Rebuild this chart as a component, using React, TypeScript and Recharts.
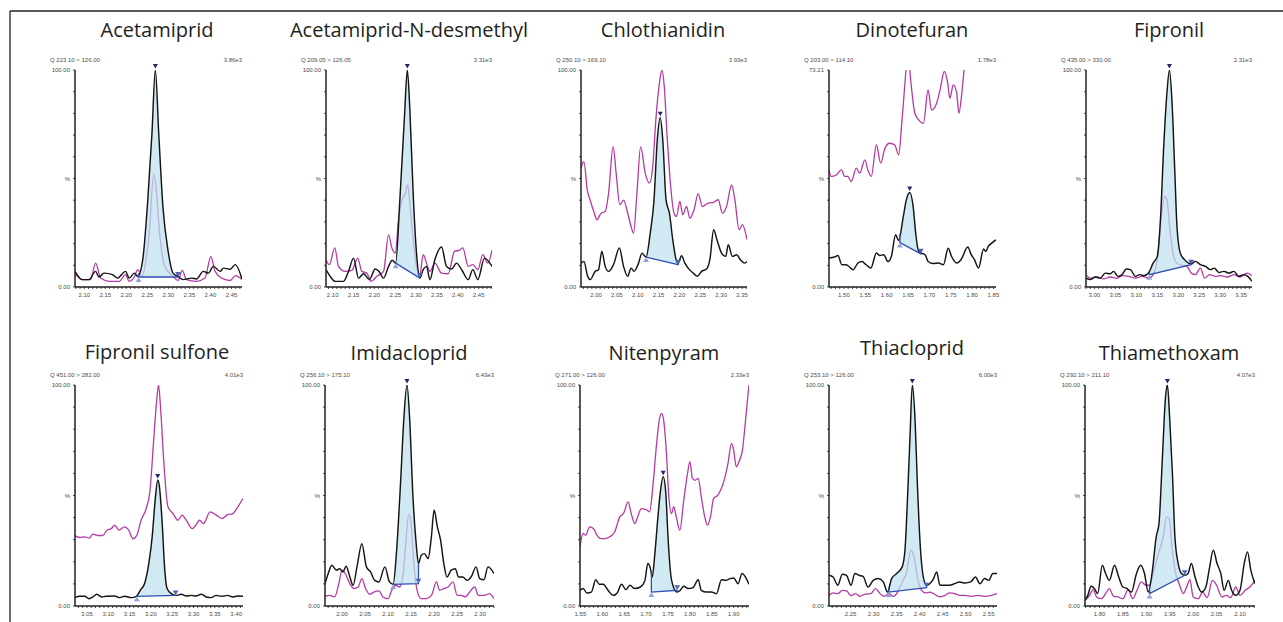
import React from 'react';
import { ComposedChart, Line, Area, XAxis, YAxis, ReferenceDot } from 'recharts';

type Pt = [number, number];

// ---------------- data ----------------
const titles = ['Acetamiprid', 'Acetamiprid-N-desmethyl', 'Chlothianidin', 'Dinotefuran', 'Fipronil', 'Fipronil sulfone', 'Imidacloprid', 'Nitenpyram', 'Thiacloprid', 'Thiamethoxam'];
const transitions = ['Q 223.10 > 126.00', 'Q 209.05 > 126.05', 'Q 250.10 > 169.10', 'Q 203.00 > 114.10', 'Q 435.00 > 330.00', 'Q 451.00 > 282.00', 'Q 256.10 > 175.10', 'Q 271.00 > 126.00', 'Q 253.10 > 126.00', 'Q 292.10 > 211.10'];
const intensities = ['3.86e3', '3.31e3', '3.93e3', '1.78e3', '2.31e3', '4.01e3', '6.43e3', '2.33e3', '6.00e3', '4.07e3'];
const yTops = [100, 100, 100, 73.21, 100, 100, 100, 100, 100, 100];
const timeRanges: Pt[] = [[2.078, 2.475], [2.084, 2.482], [1.964, 2.362], [1.465, 1.856], [2.980, 3.376], [3.022, 3.416], [1.963, 2.330], [1.549, 1.935], [2.203, 2.568], [1.769, 2.132]];
// [time, baseline level]
const peakStarts: Pt[] = [[2.229, 4.6], [2.251, 11], [2.120, 13.8], [1.631, 15.0], [3.131, 5.7], [3.167, 4.4], [2.111, 9.8], [1.712, 6.3], [2.333, 6.3], [1.907, 5.6]];
const peakEnds: Pt[] = [[2.323, 4.6], [2.309, 4.1], [2.197, 10.3], [1.680, 11.2], [3.231, 10.3], [3.258, 4.8], [2.166, 10.1], [1.771, 7.1], [2.415, 8.3], [1.982, 13.9]];

const acetamipridQuant: Pt[] = [[2.078, 7.2], [2.095, 3.4], [2.111, 3.4], [2.127, 7.2], [2.135, 4.6], [2.147, 6.4], [2.167, 5.7], [2.179, 4.1], [2.198, 7.2], [2.207, 4.1], [2.219, 6.4], [2.227, 4.9], [2.239, 12.6], [2.251, 40], [2.261, 71], [2.269, 100], [2.277, 71], [2.287, 37], [2.299, 17], [2.311, 6.4], [2.323, 4.9], [2.335, 3.4], [2.355, 4.1], [2.367, 3.7], [2.383, 7.2], [2.395, 6.4], [2.407, 9.5], [2.423, 7.2], [2.431, 8.7], [2.447, 8.2], [2.459, 10.3], [2.475, 3.7]];
const acetamipridQual: Pt[] = [[2.078, 6.4], [2.095, 3.4], [2.115, 3.4], [2.127, 11], [2.139, 4.1], [2.159, 2.6], [2.183, 2.6], [2.198, 5.7], [2.207, 2.6], [2.219, 4.6], [2.227, 8], [2.237, 4.9], [2.247, 12.6], [2.255, 26], [2.265, 52], [2.271, 45], [2.279, 25], [2.289, 11], [2.299, 7.2], [2.311, 4.9], [2.323, 3], [2.333, 7.7], [2.343, 3.4], [2.367, 2.6], [2.387, 4.1], [2.401, 14], [2.411, 7.2], [2.427, 4.1], [2.447, 3], [2.459, 5.2], [2.475, 3.4]];

const desmethylQuant: Pt[] = [[2.084, 8], [2.094, 4.9], [2.106, 2.6], [2.126, 2.6], [2.138, 7.2], [2.150, 13.3], [2.162, 4.1], [2.174, 6.1], [2.188, 3.4], [2.202, 8.3], [2.211, 7.2], [2.222, 4.1], [2.234, 9.5], [2.243, 12.3], [2.251, 11], [2.261, 40], [2.272, 78], [2.279, 100], [2.285, 82], [2.293, 43], [2.301, 15.6], [2.309, 4.1], [2.317, 8], [2.325, 9.5], [2.333, 3.4], [2.345, 12.6], [2.361, 18.4], [2.373, 9.5], [2.385, 8.3], [2.397, 11], [2.410, 7.7], [2.425, 3.4], [2.436, 8], [2.448, 3.4], [2.464, 13.3], [2.482, 9.5]];
const desmethylQual: Pt[] = [[2.084, 12.6], [2.092, 10.3], [2.105, 18], [2.114, 9.5], [2.130, 7.2], [2.146, 7.7], [2.160, 13.3], [2.170, 7.2], [2.182, 6.4], [2.192, 2.6], [2.206, 4.9], [2.222, 7.2], [2.234, 24], [2.242, 18], [2.250, 15.6], [2.258, 31], [2.266, 40], [2.274, 43], [2.280, 47], [2.285, 38.6], [2.293, 21.8], [2.301, 9.5], [2.309, 5.7], [2.317, 14.9], [2.325, 11], [2.333, 7.2], [2.345, 11], [2.361, 6.4], [2.377, 6.1], [2.392, 16.4], [2.404, 17], [2.412, 18], [2.425, 9.5], [2.436, 10.3], [2.448, 8], [2.460, 14.9], [2.472, 11], [2.482, 17]];

const clothianidinQuant: Pt[] = [[1.964, 11], [1.971, 11.8], [1.980, 4.9], [1.986, 3.4], [1.998, 7.2], [2.006, 8], [2.014, 16.4], [2.022, 9.5], [2.030, 7.2], [2.042, 10.3], [2.056, 18], [2.066, 9.5], [2.076, 4.9], [2.084, 8.7], [2.091, 7.2], [2.102, 11], [2.110, 15.6], [2.120, 13.8], [2.130, 24.8], [2.139, 40], [2.147, 68], [2.154, 78], [2.160, 68], [2.168, 40], [2.176, 34], [2.184, 21.8], [2.192, 12.6], [2.197, 11], [2.205, 14.4], [2.213, 11], [2.224, 8], [2.233, 6.4], [2.243, 4.9], [2.253, 7.2], [2.265, 8.3], [2.273, 12.6], [2.282, 26.4], [2.290, 21.8], [2.301, 15.6], [2.311, 14.1], [2.317, 19.5], [2.327, 14.1], [2.337, 14.9], [2.346, 12.6], [2.356, 11], [2.362, 11.8]];
const clothianidinQual: Pt[] = [[1.964, 54.8], [1.971, 57.8], [1.979, 44.8], [1.986, 40], [1.996, 34], [2.002, 31], [2.012, 34], [2.022, 34.8], [2.030, 43], [2.041, 64.7], [2.049, 51], [2.057, 37.9], [2.066, 40], [2.076, 34], [2.084, 27.9], [2.090, 24.8], [2.098, 43], [2.107, 64.7], [2.118, 52.5], [2.128, 47.9], [2.136, 55.5], [2.144, 78.5], [2.152, 93.9], [2.158, 100], [2.163, 93.9], [2.171, 67.8], [2.179, 46.3], [2.187, 34], [2.193, 32.5], [2.201, 39.4], [2.208, 33.3], [2.217, 37.1], [2.225, 31.7], [2.235, 35.6], [2.245, 43], [2.255, 37.1], [2.269, 38.7], [2.282, 39], [2.293, 40.2], [2.303, 34], [2.313, 37.1], [2.325, 47], [2.333, 40], [2.343, 26.4], [2.351, 28.7], [2.362, 21.8]];

const dinotefuranQuant: Pt[] = [[1.465, 9.8], [1.478, 10.1], [1.486, 10.6], [1.495, 7.5], [1.505, 7.5], [1.511, 7.0], [1.521, 5.8], [1.533, 8.1], [1.542, 8.6], [1.552, 7.5], [1.563, 6.4], [1.576, 11.5], [1.584, 10.6], [1.593, 10.9], [1.603, 8.6], [1.611, 10.3], [1.621, 17.6], [1.628, 15.7], [1.639, 23.8], [1.646, 29.4], [1.654, 31.9], [1.662, 27.2], [1.668, 18.2], [1.674, 12.4], [1.680, 11.5], [1.690, 10.9], [1.697, 8.6], [1.709, 7.9], [1.721, 8.1], [1.733, 7.5], [1.744, 13.1], [1.752, 10.3], [1.764, 8.1], [1.774, 9.2], [1.790, 13.5], [1.798, 10.9], [1.805, 9.4], [1.815, 6.4], [1.827, 12.8], [1.832, 12.0], [1.838, 13.7], [1.846, 14.8], [1.856, 15.9]];
const dinotefuranQual: Pt[] = [[1.465, 39.5], [1.470, 37.3], [1.482, 37.8], [1.494, 39.5], [1.502, 37.3], [1.509, 37.3], [1.517, 35.6], [1.529, 40.1], [1.537, 38.4], [1.549, 42.9], [1.556, 39.5], [1.564, 37.3], [1.576, 47.9], [1.586, 41.8], [1.596, 46.8], [1.607, 48.5], [1.619, 47.9], [1.628, 44.6], [1.636, 56.4], [1.644, 71], [1.649, 80], [1.657, 68.7], [1.666, 58.6], [1.675, 56.4], [1.686, 55.2], [1.697, 66.5], [1.705, 59.7], [1.717, 62], [1.725, 66.5], [1.735, 72.7], [1.743, 68.7], [1.748, 63.7], [1.756, 68.2], [1.764, 65.4], [1.769, 58.6], [1.776, 65.4], [1.782, 74.3], [1.787, 80], [1.800, 88], [1.830, 92], [1.856, 95]];

const fipronilQuant: Pt[] = [[2.980, 4.1], [2.990, 3.4], [3.002, 4.6], [3.014, 4.1], [3.026, 6.4], [3.038, 6.1], [3.046, 7.2], [3.056, 4.9], [3.066, 5.7], [3.076, 8.3], [3.086, 8], [3.098, 4.9], [3.108, 5.7], [3.118, 5.2], [3.130, 6.7], [3.140, 11], [3.150, 14.1], [3.158, 32.5], [3.165, 63.2], [3.173, 89.3], [3.179, 100], [3.185, 86], [3.192, 52.5], [3.197, 27.9], [3.205, 15.6], [3.215, 12.6], [3.225, 11], [3.231, 10.6], [3.241, 11.8], [3.253, 10.3], [3.265, 9.5], [3.277, 8], [3.286, 8.7], [3.297, 6.7], [3.309, 7.2], [3.321, 6.4], [3.333, 7.2], [3.344, 4.9], [3.356, 5.7], [3.366, 4.9], [3.376, 2.6]];
const fipronilQual: Pt[] = [[2.980, 5.7], [2.990, 4.1], [3.006, 4.6], [3.022, 3.7], [3.038, 4.6], [3.054, 4], [3.066, 5.2], [3.082, 4.9], [3.098, 4.1], [3.114, 4.9], [3.130, 4.1], [3.142, 6.4], [3.152, 15.6], [3.160, 32.5], [3.167, 41.7], [3.173, 40.2], [3.181, 24.8], [3.189, 14.1], [3.197, 11], [3.209, 10], [3.221, 9.5], [3.231, 6.4], [3.241, 5.7], [3.253, 8.7], [3.263, 4.1], [3.275, 5.7], [3.289, 4.9], [3.301, 5.2], [3.317, 4.6], [3.333, 5.7], [3.348, 4.6], [3.364, 6.4], [3.376, 5.2]];

const sulfoneQuant: Pt[] = [[3.022, 3.8], [3.033, 4.4], [3.045, 4.4], [3.055, 3.3], [3.064, 4.1], [3.073, 5.3], [3.084, 4.1], [3.095, 4.4], [3.115, 4.5], [3.127, 3.8], [3.138, 4.4], [3.154, 3.8], [3.166, 4.4], [3.175, 7.1], [3.185, 10.1], [3.195, 19.2], [3.203, 31.3], [3.210, 47.9], [3.216, 57], [3.220, 54], [3.227, 35.8], [3.232, 17.7], [3.238, 7.9], [3.248, 5.6], [3.259, 4.8], [3.271, 5.3], [3.283, 4.5], [3.295, 4.8], [3.306, 4.5], [3.318, 5.3], [3.330, 4.1], [3.341, 3.8], [3.353, 4.8], [3.367, 4.4], [3.380, 4.8], [3.392, 4.1], [3.404, 4.5], [3.416, 4.4]];
const sulfoneQual: Pt[] = [[3.022, 31.7], [3.033, 31], [3.045, 31.3], [3.055, 30.7], [3.064, 32.5], [3.076, 31.9], [3.087, 31.9], [3.097, 34.3], [3.107, 35], [3.115, 36.6], [3.125, 34.3], [3.138, 35.8], [3.148, 34.3], [3.158, 30.4], [3.167, 32], [3.177, 38.8], [3.189, 44.1], [3.198, 52.4], [3.206, 73.6], [3.213, 91.7], [3.218, 100], [3.223, 88.7], [3.230, 66], [3.240, 44.9], [3.252, 41.8], [3.263, 38.8], [3.273, 41.1], [3.283, 38.8], [3.297, 35], [3.308, 37.3], [3.314, 38.8], [3.323, 37.3], [3.339, 42.6], [3.353, 41.1], [3.367, 39.6], [3.378, 41.1], [3.392, 41.8], [3.404, 44.9], [3.416, 48.6]];

const imidaclopridQuant: Pt[] = [[1.963, 10.1], [1.970, 14.7], [1.978, 18.4], [1.988, 16.2], [1.995, 16.9], [2.002, 15.4], [2.009, 18], [2.017, 13.1], [2.024, 9.4], [2.033, 18.4], [2.043, 28.2], [2.053, 17.7], [2.062, 15.4], [2.071, 11.6], [2.080, 10.9], [2.093, 17.7], [2.103, 10.9], [2.111, 9.8], [2.118, 23.7], [2.127, 55.4], [2.134, 84], [2.141, 100], [2.147, 84], [2.154, 49.4], [2.161, 28.2], [2.166, 19.2], [2.172, 23], [2.179, 23.7], [2.187, 21.5], [2.194, 31.3], [2.200, 43.4], [2.207, 35.8], [2.214, 29.8], [2.221, 19.2], [2.228, 13.1], [2.237, 16.2], [2.246, 16.9], [2.253, 13.1], [2.262, 13.1], [2.272, 11.6], [2.281, 13.4], [2.291, 17.7], [2.299, 12.4], [2.308, 11.9], [2.317, 17.7], [2.330, 14.7]];
const imidaclopridQual: Pt[] = [[1.963, 4.4], [1.973, 4.8], [1.984, 4.1], [1.993, 10.1], [2.000, 16.2], [2.007, 14.7], [2.017, 10.1], [2.026, 7.9], [2.035, 8.6], [2.043, 12.4], [2.051, 7.9], [2.060, 5.3], [2.069, 6.3], [2.080, 6.8], [2.089, 4.1], [2.100, 3.3], [2.108, 7.1], [2.116, 9.4], [2.125, 8.6], [2.132, 13.1], [2.139, 29.8], [2.145, 41.8], [2.150, 37.3], [2.156, 19.2], [2.163, 7.1], [2.172, 3.3], [2.183, 3.3], [2.194, 4.8], [2.205, 10.9], [2.212, 7.1], [2.221, 7.9], [2.230, 8.6], [2.241, 10.9], [2.250, 4.8], [2.259, 4.8], [2.268, 4.1], [2.277, 6.3], [2.288, 8.6], [2.296, 4.8], [2.309, 4.8], [2.320, 5.6], [2.330, 3.3]];

const nitenpyramQuant: Pt[] = [[1.549, 7.1], [1.556, 7.9], [1.565, 5.9], [1.575, 6.3], [1.585, 11.9], [1.593, 9.8], [1.602, 9.8], [1.613, 7.1], [1.625, 4.8], [1.634, 5.9], [1.644, 9.8], [1.654, 7.4], [1.663, 9.4], [1.674, 7.9], [1.687, 8.6], [1.697, 11.3], [1.704, 19.2], [1.710, 16.9], [1.714, 13.1], [1.720, 23.7], [1.727, 40.3], [1.733, 52.4], [1.739, 58.5], [1.745, 51], [1.750, 31.3], [1.756, 14.7], [1.763, 8.3], [1.771, 6.3], [1.778, 7.1], [1.786, 8.9], [1.796, 7.9], [1.807, 8.3], [1.819, 11.9], [1.826, 7.1], [1.838, 6.3], [1.849, 6.3], [1.861, 5.6], [1.872, 11.9], [1.882, 11.6], [1.892, 12.4], [1.900, 12.7], [1.910, 10.1], [1.919, 14.7], [1.927, 13.1], [1.935, 9.8]];
const nitenpyramQual: Pt[] = [[1.549, 26.7], [1.556, 32.8], [1.562, 32], [1.571, 35.8], [1.580, 35], [1.588, 32], [1.596, 30.5], [1.606, 30.5], [1.617, 31.3], [1.628, 33.5], [1.640, 40.3], [1.649, 42.1], [1.659, 47.1], [1.666, 41.8], [1.674, 37.3], [1.682, 41.1], [1.689, 44.1], [1.699, 43.7], [1.708, 42.6], [1.716, 55.4], [1.724, 73.6], [1.730, 84.1], [1.735, 87.2], [1.740, 84.1], [1.746, 70.5], [1.752, 49.4], [1.758, 41.8], [1.763, 44.9], [1.769, 40.3], [1.777, 34.3], [1.786, 47.9], [1.794, 59.2], [1.800, 65.3], [1.806, 57.7], [1.812, 56.9], [1.819, 57.7], [1.826, 49.4], [1.834, 40.3], [1.840, 36.6], [1.847, 40.3], [1.854, 48.6], [1.864, 50.2], [1.876, 55.4], [1.887, 64.5], [1.895, 73.6], [1.900, 70.5], [1.906, 63], [1.912, 65.3], [1.920, 70.5], [1.925, 79.6], [1.930, 90.2], [1.935, 100]];

const thiaclopridQuant: Pt[] = [[2.203, 13.9], [2.212, 13.1], [2.222, 9.4], [2.232, 14.4], [2.241, 13.9], [2.251, 9.4], [2.259, 14.7], [2.268, 13.9], [2.277, 13.4], [2.288, 8.6], [2.299, 11.6], [2.310, 12.4], [2.321, 10.9], [2.330, 6.3], [2.339, 12.4], [2.350, 14.7], [2.362, 17.7], [2.368, 25.2], [2.374, 50.9], [2.379, 76.6], [2.384, 100], [2.390, 84.1], [2.395, 55.4], [2.401, 28.2], [2.408, 13.1], [2.415, 9.4], [2.422, 10.1], [2.429, 11.9], [2.437, 15.4], [2.444, 9.4], [2.455, 9.4], [2.465, 9.4], [2.476, 10.1], [2.487, 10.9], [2.498, 10.4], [2.511, 10.9], [2.521, 13.1], [2.531, 10.1], [2.541, 12.4], [2.550, 11.6], [2.559, 14.7], [2.568, 14.7]];
const thiaclopridQual: Pt[] = [[2.203, 4.8], [2.212, 5.9], [2.222, 5.6], [2.232, 7.1], [2.241, 6.8], [2.251, 4.7], [2.261, 5.6], [2.270, 4.4], [2.281, 5.3], [2.294, 5.6], [2.304, 7.9], [2.314, 5.6], [2.323, 4.4], [2.333, 5.6], [2.343, 4.4], [2.352, 6.3], [2.362, 10.9], [2.371, 14.7], [2.381, 25.2], [2.388, 22.1], [2.395, 13.1], [2.404, 7.1], [2.413, 5.9], [2.422, 6.3], [2.433, 5.3], [2.444, 4.1], [2.455, 4.8], [2.465, 5.9], [2.476, 5.6], [2.487, 4.8], [2.498, 4.8], [2.512, 4.4], [2.527, 4.8], [2.541, 4.4], [2.556, 4.8], [2.568, 5.6]];

const thiamethoxamQuant: Pt[] = [[1.769, 2.6], [1.775, 4.8], [1.782, 8.9], [1.789, 7.9], [1.796, 5.6], [1.806, 18.4], [1.813, 14.7], [1.821, 11.6], [1.832, 18.4], [1.841, 13.1], [1.850, 8.6], [1.859, 7.9], [1.868, 6.3], [1.879, 14.7], [1.888, 18.4], [1.896, 14.7], [1.904, 6.3], [1.913, 16.2], [1.921, 31.3], [1.927, 37.3], [1.934, 66], [1.941, 94.7], [1.945, 100], [1.950, 84.1], [1.956, 58.5], [1.961, 31.3], [1.968, 19.2], [1.975, 14.7], [1.982, 13.9], [1.989, 14.7], [1.996, 19.2], [2.004, 13.1], [2.011, 8.6], [2.018, 6.3], [2.027, 8.6], [2.034, 16.2], [2.043, 25.2], [2.051, 19.2], [2.059, 14.7], [2.066, 7.1], [2.075, 11.6], [2.082, 7.1], [2.091, 4.8], [2.100, 7.1], [2.109, 19.2], [2.116, 24.5], [2.123, 16.2], [2.132, 10.1]];
const thiamethoxamQual: Pt[] = [[1.769, 2.6], [1.779, 4.8], [1.786, 7.4], [1.794, 4.1], [1.804, 3.3], [1.813, 5.6], [1.821, 7.9], [1.830, 4.4], [1.839, 4.1], [1.850, 3.3], [1.861, 7.4], [1.871, 3.3], [1.880, 7.1], [1.889, 10.9], [1.899, 9.4], [1.907, 9.4], [1.918, 17.7], [1.927, 24.5], [1.936, 31.3], [1.943, 40.3], [1.949, 39.6], [1.954, 28.2], [1.961, 16.2], [1.970, 10.1], [1.979, 5.6], [1.986, 8.6], [1.993, 11.9], [2.000, 4.1], [2.011, 3.3], [2.020, 6.3], [2.030, 3.8], [2.041, 11.6], [2.050, 9.4], [2.061, 4.1], [2.071, 4.8], [2.080, 3.8], [2.091, 8.6], [2.100, 4.8], [2.111, 7.1], [2.121, 8.6], [2.132, 11.6]];

const quantSeries: Pt[][] = [acetamipridQuant, desmethylQuant, clothianidinQuant, dinotefuranQuant, fipronilQuant, sulfoneQuant, imidaclopridQuant, nitenpyramQuant, thiaclopridQuant, thiamethoxamQuant];
const qualSeries: Pt[][] = [acetamipridQual, desmethylQual, clothianidinQual, dinotefuranQual, fipronilQual, sulfoneQual, imidaclopridQual, nitenpyramQual, thiaclopridQual, thiamethoxamQual];

// ---------------- layout ----------------
// plot area boxes: left, top, right, bottom (page pixels)
const plotBoxes = [
  [75, 70, 242, 287], [326, 70, 492, 287], [581, 70, 747, 287], [829, 70, 996, 287], [1086, 70, 1252, 287],
  [75, 385, 243, 606], [325, 385, 494, 606], [580, 385, 749, 606], [829, 385, 997, 606], [1085, 385, 1255, 606],
];
const titlePos = [[157, 29], [409, 29], [663, 29], [912, 29], [1169, 29], [157, 351], [409, 352], [664, 352], [912, 347], [1169, 352]];

const INK = '#231f20';
const SMALL_FONT = '"Liberation Sans", Arial, sans-serif';
const QUANT = '#141414';
const QUAL = '#b43aa4';
const FILL = '#bfe0ee';
const BASE = '#2f4fb3';

const ML = 36, MT = 12, MR = 8, MB = 16;

function interp(series: Pt[], t: number): number {
  for (let k = 0; k < series.length - 1; k++) {
    const [ta, va] = series[k];
    const [tb, vb] = series[k + 1];
    if (t >= ta && t <= tb) return va + ((vb - va) * (t - ta)) / (tb - ta);
  }
  return series[series.length - 1][1];
}

const downTri = (color: string, w: number, h: number, gap: number) => (p: any) => (
  <path d={`M${p.cx - w / 2},${p.cy - gap - h} L${p.cx + w / 2},${p.cy - gap - h} L${p.cx},${p.cy - gap} Z`} fill={color} />
);
const upTri = (color: string, w: number, h: number, gap: number) => (p: any) => (
  <path d={`M${p.cx - w / 2},${p.cy + gap + h} L${p.cx + w / 2},${p.cy + gap + h} L${p.cx},${p.cy + gap} Z`} fill={color} />
);

const XTick = (props: any) => {
  const { x, y, payload } = props;
  const k = Math.round(payload.value * 100);
  if (k % 5 !== 0) return <g />;
  return (
    <text x={x} y={y} dy={6} textAnchor="middle" fontSize={6} fill="#4d4d4d" fontFamily={SMALL_FONT}>
      {(k / 100).toFixed(2)}
    </text>
  );
};

const makeYTick = (top: number) => (props: any) => {
  const { x, y, payload } = props;
  const idx = Math.round((payload.value / top) * 10);
  let label = '';
  if (idx === 0) label = '0.00';
  else if (idx === 5) label = '%';
  else if (idx === 10) label = top.toFixed(2);
  if (!label) return <g />;
  return (
    <text x={x - 1} y={y} dy={2} textAnchor="end" fontSize={6} fill="#4d4d4d" fontFamily={SMALL_FONT}>
      {label}
    </text>
  );
};

function Panel({ i }: { i: number }) {
  const [x0, y0, x1, y1] = plotBoxes[i];
  const width = x1 - x0 + ML + MR;
  const height = y1 - y0 + MT + MB;
  const quant = quantSeries[i];
  const qual = qualSeries[i];
  const [ts, bs] = peakStarts[i];
  const [te, be] = peakEnds[i];
  const base = (t: number) => bs + ((be - bs) * (t - ts)) / (te - ts);
  const qData = quant.map(([t, v]) => ({ t, v }));
  const rData = qual.map(([t, v]) => ({ t, v }));
  const inner = quant.filter(([t]) => t > ts && t < te);
  const vs = interp(quant, ts);
  const ve = interp(quant, te);
  const fillData = [
    { t: ts, r: [bs, vs] },
    ...inner.map(([t, v]) => ({ t, r: [base(t), v] })),
    { t: te, r: [be, ve] },
  ];
  const baseData = [
    { t: ts, v: vs },
    { t: ts, v: bs },
    { t: te, v: be },
    { t: te, v: ve },
  ];
  let apex = inner[0];
  inner.forEach((p) => {
    if (p[1] > apex[1]) apex = p;
  });
  const [lo, hi] = timeRanges[i];
  const xTicks: number[] = [];
  for (let k = Math.ceil(lo * 100 - 1e-6); k <= Math.floor(hi * 100 + 1e-6); k++) xTicks.push(k / 100);
  const top = yTops[i];
  const yTicks = Array.from({ length: 11 }, (_, k) => (top * k) / 10);

  return (
    <div style={{ position: 'absolute', left: x0 - ML, top: y0 - MT }}>
      <ComposedChart width={width} height={height} margin={{ top: MT, right: MR, bottom: 0, left: 0 }}>
        <XAxis
          type="number"
          dataKey="t"
          domain={[lo, hi]}
          allowDataOverflow
          ticks={xTicks}
          interval={0}
          tick={XTick}
          tickSize={2}
          tickMargin={2}
          height={MB}
          axisLine={{ stroke: INK, strokeWidth: 1.5 }}
          tickLine={{ stroke: INK, strokeWidth: 0.8 }}
        />
        <YAxis
          type="number"
          domain={[0, top]}
          allowDataOverflow
          ticks={yTicks}
          interval={0}
          tick={makeYTick(top)}
          tickSize={2}
          tickMargin={2}
          width={ML}
          axisLine={{ stroke: INK, strokeWidth: 1.5 }}
          tickLine={{ stroke: INK, strokeWidth: 0.8 }}
        />
        <Line data={rData} dataKey="v" type="monotone" stroke={QUAL} strokeWidth={1.3} dot={false} activeDot={false} isAnimationActive={false} zIndex={400} />
        <Area data={fillData} dataKey="r" type="monotone" stroke="none" fill={FILL} fillOpacity={0.72} isAnimationActive={false} zIndex={410} />
        <Line data={qData} dataKey="v" type="monotone" stroke={QUANT} strokeWidth={1.45} dot={false} activeDot={false} isAnimationActive={false} zIndex={420} />
        <Line data={baseData} dataKey="v" type="linear" stroke={BASE} strokeWidth={1.3} dot={false} activeDot={false} isAnimationActive={false} zIndex={430} />
        <ReferenceDot x={apex[0]} y={apex[1]} ifOverflow="visible" shape={downTri('#1f2768', 5, 4.5, 1.5)} zIndex={440} />
        <ReferenceDot x={ts} y={bs} ifOverflow="visible" shape={upTri('#8fa0da', 6, 4.5, 0.5)} zIndex={440} />
        <ReferenceDot x={te} y={be} ifOverflow="visible" shape={downTri('#4a63bd', 6, 4.5, 0.5)} zIndex={440} />
      </ComposedChart>
    </div>
  );
}

export default function App() {
  return (
    <div style={{ position: 'absolute', left: 0, top: 0, width: 1283, height: 622, background: '#fff', overflow: 'hidden' }}>
      <svg width={1283} height={622} style={{ position: 'absolute', left: 0, top: 0 }}>
        <line x1={10} y1={11} x2={1283} y2={11} stroke={INK} strokeWidth={1.3} />
        <line x1={10} y1={11} x2={10} y2={622} stroke={INK} strokeWidth={1.3} />
        {titles.map((t, i) => (
          <text key={t} x={titlePos[i][0]} y={titlePos[i][1]} textAnchor="middle" dominantBaseline="central" fontSize={20} fill={INK} fontFamily='"Open Sans", "Noto Sans", sans-serif'>
            {t}
          </text>
        ))}
        {transitions.map((t, i) => (
          <text key={'q' + i} x={plotBoxes[i][0] - 25} y={plotBoxes[i][1] - 8} fontSize={6} fill="#4d4d4d" fontFamily={SMALL_FONT}>
            {t}
          </text>
        ))}
        {intensities.map((t, i) => (
          <text key={'n' + i} x={plotBoxes[i][2]} y={plotBoxes[i][1] - 8} textAnchor="end" fontSize={6} fill="#4d4d4d" fontFamily={SMALL_FONT}>
            {t}
          </text>
        ))}
      </svg>
      {titles.map((t, i) => (
        <Panel key={t} i={i} />
      ))}
    </div>
  );
}
